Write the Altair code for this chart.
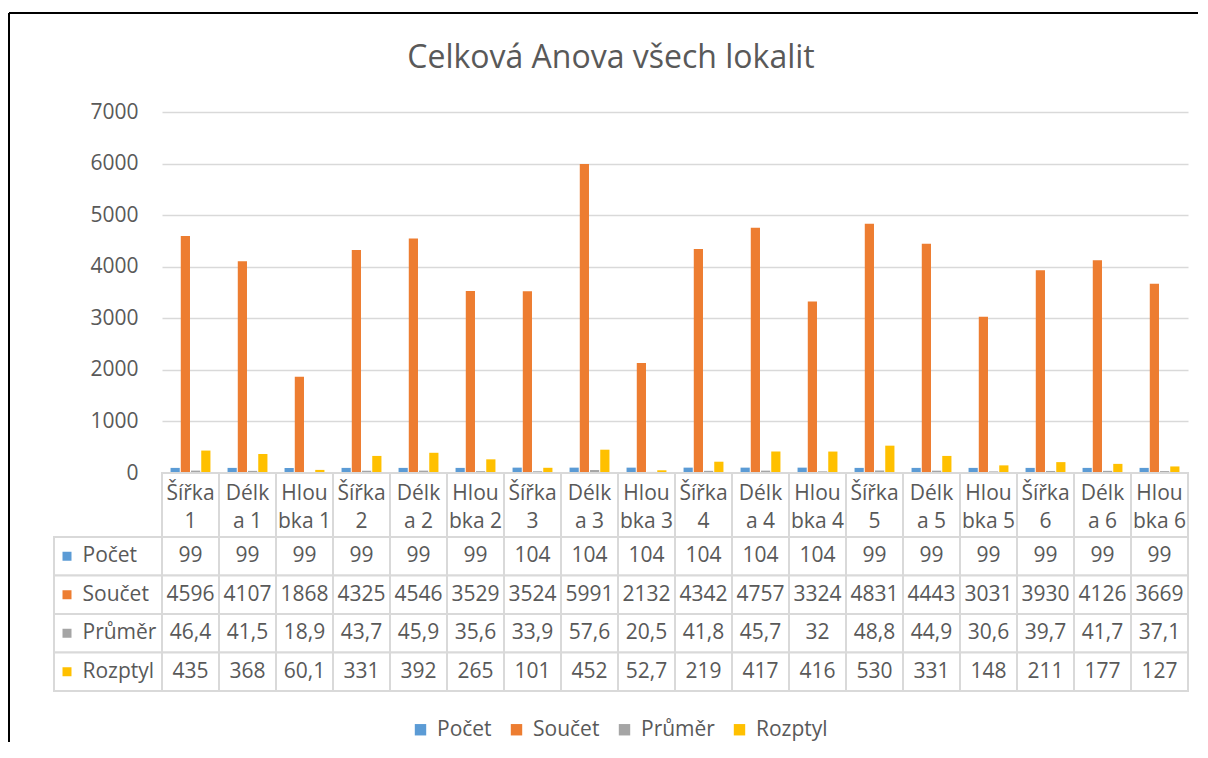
import altair as alt
import pandas as pd

FONT = "Open Sans"
TXT = "#595959"
GRID = "#d9d9d9"

title_text = "Celková Anova všech lokalit"
categories = ["Šířka 1", "Délka 1", "Hloubka 1", "Šířka 2", "Délka 2", "Hloubka 2",
              "Šířka 3", "Délka 3", "Hloubka 3", "Šířka 4", "Délka 4", "Hloubka 4",
              "Šířka 5", "Délka 5", "Hloubka 5", "Šířka 6", "Délka 6", "Hloubka 6"]
header_labels = ["Šířka\n1", "Délk\na 1", "Hlou\nbka 1", "Šířka\n2", "Délk\na 2", "Hlou\nbka 2",
                 "Šířka\n3", "Délk\na 3", "Hlou\nbka 3", "Šířka\n4", "Délk\na 4", "Hlou\nbka 4",
                 "Šířka\n5", "Délk\na 5", "Hlou\nbka 5", "Šířka\n6", "Délk\na 6", "Hlou\nbka 6"]
series = ["Počet", "Součet", "Průměr", "Rozptyl"]
colors = ["#5B9BD5", "#ED7D31", "#A5A5A5", "#FFC000"]

pocet = [99, 99, 99, 99, 99, 99, 104, 104, 104, 104, 104, 104, 99, 99, 99, 99, 99, 99]
soucet = [4596, 4107, 1868, 4325, 4546, 3529, 3524, 5991, 2132, 4342, 4757, 3324,
          4831, 4443, 3031, 3930, 4126, 3669]
prumer = [46.4, 41.5, 18.9, 43.7, 45.9, 35.6, 33.9, 57.6, 20.5, 41.8, 45.7, 32,
          48.8, 44.9, 30.6, 39.7, 41.7, 37.1]
rozptyl = [435, 368, 60.1, 331, 392, 265, 101, 452, 52.7, 219, 417, 416,
           530, 331, 148, 211, 177, 127]
y_ticks = [0, 1000, 2000, 3000, 4000, 5000, 6000, 7000]


def fmt(v):
    return f"{v:g}".replace(".", ",")


rows = []
for s, vals in zip(series, [pocet, soucet, prumer, rozptyl]):
    for c, v in zip(categories, vals):
        rows.append({"category": c, "series": s, "value": v, "label": fmt(v)})
df = pd.DataFrame(rows)
hdr = pd.DataFrame({"category": categories, "header": header_labels})
ser_df = pd.DataFrame({"series": series})
one = pd.DataFrame({"t": [title_text]})

W = 1026

# ---------------- bars ----------------
xbar = alt.X("category:N", sort=categories, axis=None,
             scale=alt.Scale(paddingInner=0.3, paddingOuter=0.15))
bars = alt.Chart(df).mark_bar().encode(
    x=xbar,
    xOffset=alt.XOffset("series:N", sort=series,
                        scale=alt.Scale(paddingInner=0.1, paddingOuter=0)),
    y=alt.Y("value:Q", scale=alt.Scale(domain=[0, 7000]),
            axis=alt.Axis(values=y_ticks, format="d", title=None, labelFontSize=21,
                          labelColor=TXT, labelFont=FONT, labelPadding=24, domain=False,
                          ticks=False, gridColor=GRID, gridWidth=1.5)),
    color=alt.Color("series:N", sort=series, scale=alt.Scale(domain=series, range=colors),
                    legend=alt.Legend(orient="none", direction="horizontal", title=None,
                                      legendX=248, legendY=607, symbolType="square",
                                      symbolSize=130, symbolStrokeWidth=0,
                                      labelFontSize=21, labelFont=FONT, labelColor=TXT,
                                      labelOffset=6, columnPadding=14)),
)
title_mark = alt.Chart(one).mark_text(fontSize=32, font=FONT, color=TXT, align="center",
                                      baseline="alphabetic").encode(
    text="t:N", x=alt.value(449), y=alt.value(-44))
frame_top = alt.Chart(one).mark_rule(color="black", strokeWidth=2).encode(
    x=alt.value(-153), x2=alt.value(1036), y=alt.value(-99))
frame_left = alt.Chart(one).mark_rule(color="black", strokeWidth=2).encode(
    x=alt.value(-153), y=alt.value(-99), y2=alt.value(630))

top = alt.layer(bars, title_mark, frame_top, frame_left).properties(width=W, height=361)

# ---------------- table header ----------------
xt = alt.X("category:N", sort=categories, axis=None,
           scale=alt.Scale(paddingInner=0, paddingOuter=0))
hdr_cells = alt.Chart(hdr).mark_rect(fill="white", stroke=GRID, strokeWidth=2).encode(x=xt)
hdr_text = alt.Chart(hdr).mark_text(fontSize=21, font=FONT, color=TXT, lineBreak="\n",
                                    lineHeight=28, baseline="middle", dy=-11).encode(
    x=xt, text="header:N")
header = alt.layer(hdr_cells, hdr_text).properties(width=W, height=64)

# ---------------- table body ----------------
yrow = alt.Y("series:N", sort=series, scale=alt.Scale(paddingInner=0, paddingOuter=0),
             axis=alt.Axis(title=None, labelAlign="left", labelPadding=80, labelFontSize=21,
                           labelFont=FONT, labelColor=TXT, domain=False, ticks=False,
                           tickSize=0, zindex=1))
cells = alt.Chart(df).mark_rect(fill="white", stroke=GRID, strokeWidth=2).encode(x=xt, y=yrow)
lab_cells = alt.Chart(ser_df).mark_rect(fill="white", stroke=GRID, strokeWidth=2).encode(
    x=alt.value(-108), x2=alt.value(0), y=yrow)
swatch = alt.Chart(ser_df).mark_square(size=81, opacity=1).encode(
    x=alt.value(-95), y=yrow,
    fill=alt.Fill("series:N", sort=series, scale=alt.Scale(domain=series, range=colors),
                  legend=None))
cell_text = alt.Chart(df).mark_text(fontSize=21, font=FONT, color=TXT).encode(
    x=xt, y=yrow, text="label:N")
table = alt.layer(lab_cells, cells, swatch, cell_text).properties(width=W, height=154)

chart = alt.vconcat(top, header, table, spacing=0, bounds="flush").properties(
    padding={"left": 0, "top": 4, "right": 0, "bottom": 0},
    background="white",
).configure_view(stroke=None)

chart.save("out.html", embed_options={"renderer": "svg", "actions": False})
